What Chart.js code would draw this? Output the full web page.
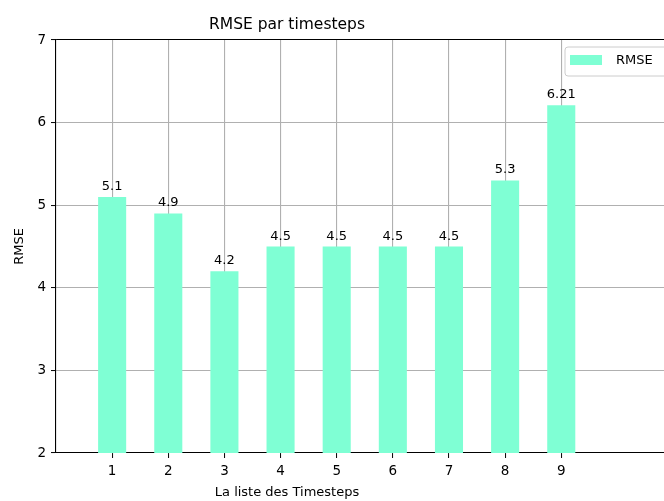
<!DOCTYPE html>
<html>
<head>
<meta charset="utf-8">
<script src="https://cdn.jsdelivr.net/npm/chart.js@4.4.0/dist/chart.umd.min.js"></script>
<style>
  html, body { margin: 0; padding: 0; background: #fff; overflow: hidden; }
  #wrap { width: 664px; height: 501px; position: relative; }
</style>
</head>
<body>
<div id="wrap"><canvas id="chart"></canvas></div>
<script>
var timesteps = [1, 2, 3, 4, 5, 6, 7, 8, 9];
var rmseValues = [5.1, 4.9, 4.2, 4.5, 4.5, 4.5, 4.5, 5.3, 6.21];
var yTicks = [2, 3, 4, 5, 6, 7];

var chartTitle = 'RMSE par timesteps';
var xTitle = 'La liste des Timesteps';
var yTitle = 'RMSE';
var seriesName = 'RMSE';

var barColor = '#7fffd4';
var gridColor = '#b0b0b0';
var fontFamily = '"DejaVu Sans", sans-serif';

Chart.defaults.font.family = fontFamily;
Chart.defaults.color = '#000';

var points = [];
for (var i = 0; i < timesteps.length; i++) {
  points.push({ x: timesteps[i], y: rmseValues[i] });
}

// title, x label, value labels and legend box, drawn matplotlib style
var extras = {
  id: 'extras',
  afterDraw: function (chart) {
    var ctx = chart.ctx;
    var area = chart.chartArea;
    var mid = area.left + 231;
    ctx.save();
    ctx.fillStyle = '#000';
    ctx.textAlign = 'center';

    ctx.font = '15.5px ' + fontFamily;
    ctx.textBaseline = 'alphabetic';
    ctx.fillText(chartTitle, mid, 29);

    ctx.font = '13px ' + fontFamily;
    ctx.textBaseline = 'middle';
    ctx.fillText(xTitle, mid, 493);

    // value above each bar
    var meta = chart.getDatasetMeta(0);
    ctx.textBaseline = 'alphabetic';
    meta.data.forEach(function (bar, i) {
      ctx.fillText(String(rmseValues[i]), bar.x, bar.y - 7);
    });

    // legend
    var lx = area.right - 99, ly = area.top + 7;
    ctx.beginPath();
    ctx.roundRect(lx, ly, 120, 29, 3);
    ctx.fillStyle = 'rgba(255,255,255,0.8)';
    ctx.fill();
    ctx.strokeStyle = '#cccccc';
    ctx.lineWidth = 1;
    ctx.stroke();
    ctx.fillStyle = barColor;
    ctx.fillRect(lx + 5, ly + 8, 32, 10);
    ctx.fillStyle = '#000';
    ctx.textAlign = 'left';
    ctx.textBaseline = 'middle';
    ctx.fillText(seriesName, lx + 51, ly + 14);
    ctx.restore();
  }
};

new Chart(document.getElementById('chart'), {
  type: 'bar',
  data: {
    datasets: [{
      label: seriesName,
      data: points,
      backgroundColor: barColor,
      borderWidth: 0,
      categoryPercentage: 1,
      barPercentage: 0.5
    }]
  },
  options: {
    responsive: true,
    maintainAspectRatio: false,
    animation: false,
    devicePixelRatio: 1,
    layout: { padding: { top: 40, left: 0, right: 0, bottom: 0 } },
    plugins: {
      legend: { display: false },
      title: { display: false },
      tooltip: { enabled: false }
    },
    scales: {
      x: {
        type: 'linear',
        min: 0,
        max: 10.83,
        offset: false,
        z: 1,
        afterBuildTicks: function (scale) {
          scale.ticks = timesteps.map(function (v) { return { value: v }; });
        },
        afterFit: function (scale) { scale.height = 48; },
        grid: {
          offset: false,
          color: gridColor,
          lineWidth: 1.1,
          tickColor: '#000',
          tickLength: 5,
          tickWidth: 1
        },
        border: { color: '#000', width: 1.1 },
        ticks: {
          autoSkip: false,
          maxRotation: 0,
          padding: 5,
          font: { size: 13.5 },
          color: '#000'
        }
      },
      y: {
        min: 2,
        max: 7,
        z: 1,
        afterBuildTicks: function (scale) {
          scale.ticks = yTicks.map(function (v) { return { value: v }; });
        },
        afterFit: function (scale) { scale.width = 56; },
        grid: {
          color: function (c) { return c.tick && c.tick.value === 7 ? '#000' : gridColor; },
          lineWidth: 1.1,
          tickColor: '#000',
          tickLength: 5,
          tickWidth: 1
        },
        border: { color: '#000', width: 1.1 },
        ticks: {
          padding: 5,
          font: { size: 13.5 },
          color: '#000'
        },
        title: {
          display: true,
          text: yTitle,
          font: { size: 13 },
          color: '#000',
          padding: { top: 12, bottom: 0 }
        }
      }
    }
  },
  plugins: [extras]
});
</script>
</body>
</html>
